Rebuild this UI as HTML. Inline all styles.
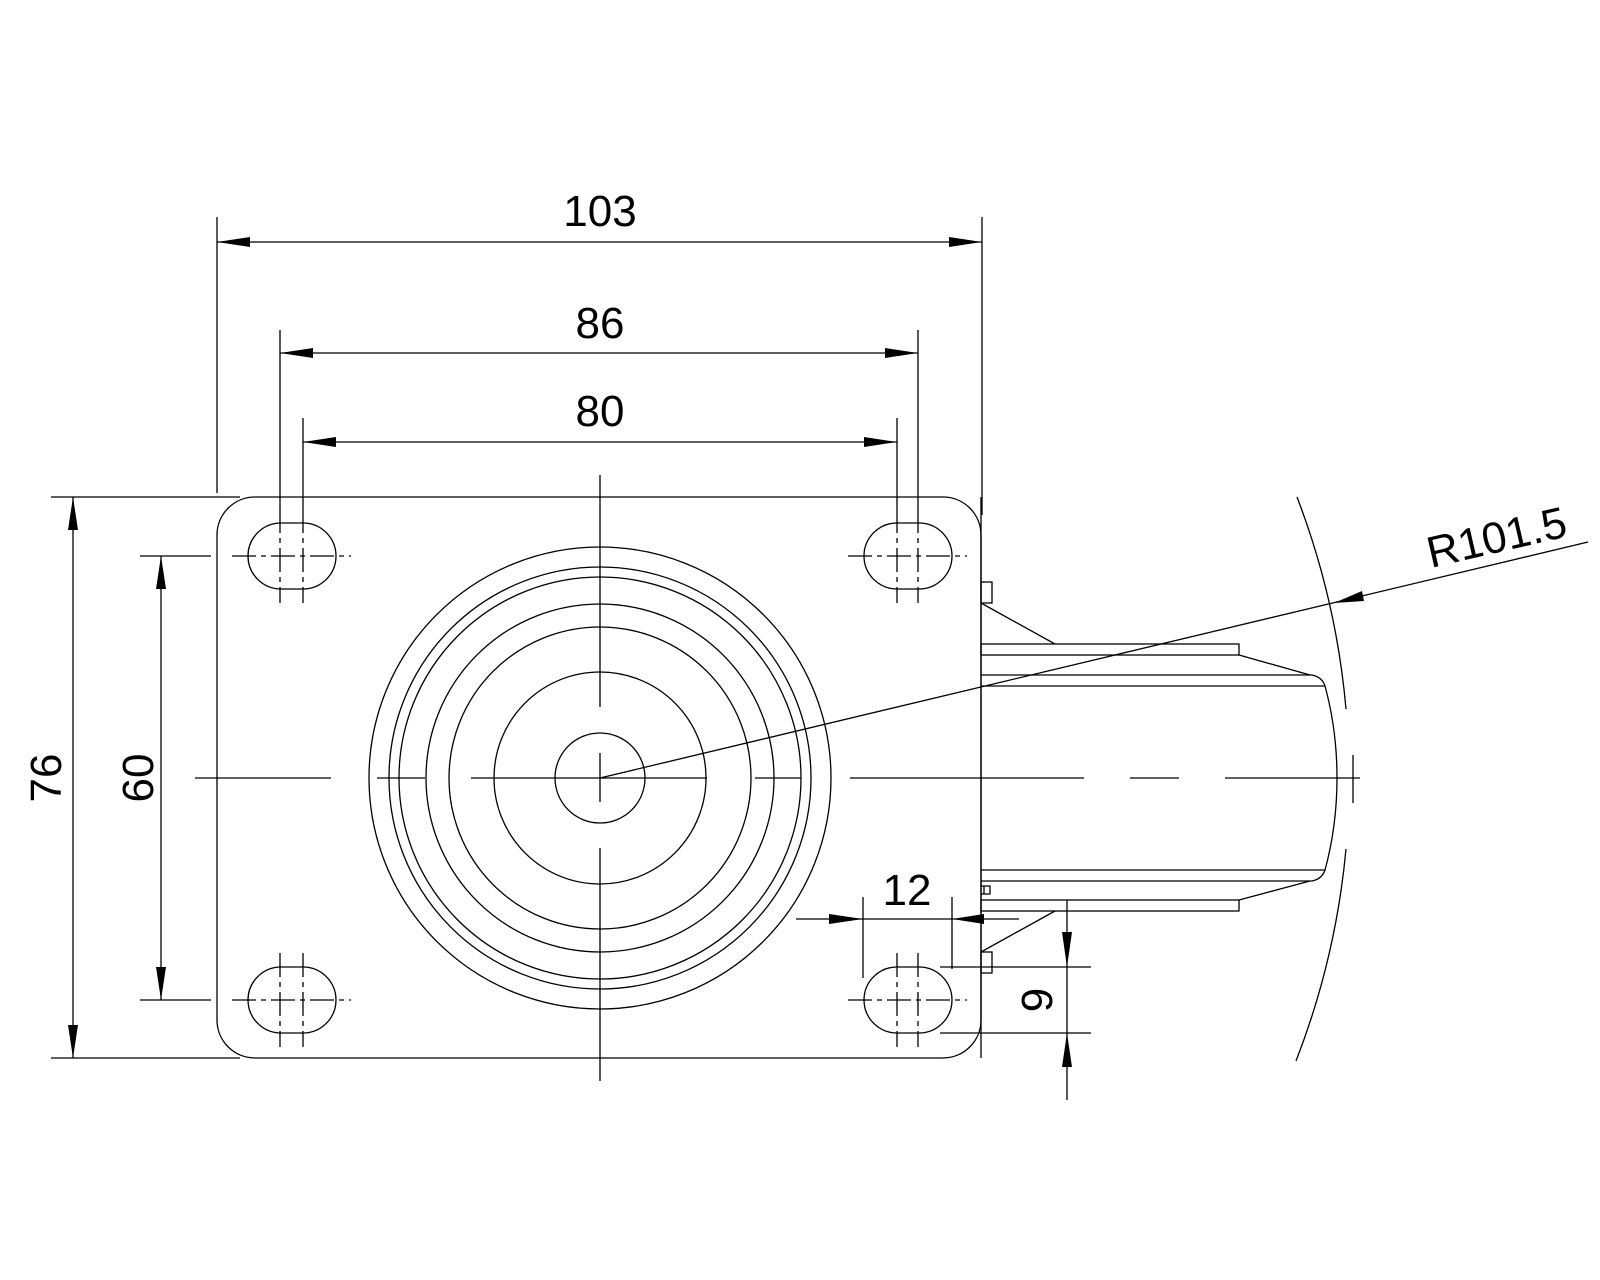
<!DOCTYPE html>
<html><head><meta charset="utf-8"><style>
html,body{margin:0;padding:0;background:#fff;}
svg{display:block;}
text{font-family:"Liberation Sans",Arial,sans-serif;fill:#000;}
</style></head><body>
<svg width="1600" height="1280" viewBox="0 0 1600 1280" xmlns="http://www.w3.org/2000/svg">
<g fill="none" stroke="#000" stroke-width="1.3">
<!-- plate -->
<path d="M257,497 H943 A38,38 0 0 1 981,535 V1020 A38,38 0 0 1 943,1058 H255 A38,38 0 0 1 217,1020 V535 A38,38 0 0 1 255,497 Z"/>
<!-- circles -->
<circle cx="600" cy="778" r="231"/>
<circle cx="600" cy="778" r="211"/>
<circle cx="600" cy="778" r="201"/>
<circle cx="600" cy="778" r="174"/>
<circle cx="600" cy="778" r="151"/>
<circle cx="600" cy="778" r="106"/>
<circle cx="600" cy="778" r="45"/>
<!-- centerlines front -->
<path d="M195,778H331 M377,778H425 M471,778H707 M755,778H801 M850,778H1084 M1130,778H1179 M1225,778H1360"/>
<path d="M600,475V707 M600,753V802 M600,848V1081"/>
<!-- slots -->
<path d="M281,523 H303 A33,33 0 0 1 303,589 H281 A33,33 0 0 1 281,523 Z"/>
<path d="M897,523 H919 A33,33 0 0 1 919,589 H897 A33,33 0 0 1 897,523 Z"/>
<path d="M281,967 H303 A33,33 0 0 1 303,1033 H281 A33,33 0 0 1 281,967 Z"/>
<path d="M897,967 H919 A33,33 0 0 1 919,1033 H897 A33,33 0 0 1 897,967 Z"/>
<g stroke-dasharray="24,5,5,5">
<path d="M232,556H351 M848,556H967 M232,1000H351 M848,1000H967"/>
<path d="M280,509V603 M303,509V603 M897,509V603 M918,509V603"/>
<path d="M280,953V1047 M303,953V1047 M897,953V1047 M918,953V1047"/>
</g>
<!-- dimension lines -->
<path d="M217,217V493 M982,217V515 M217,242H982"/>
<path d="M280,330V509 M918,330V509 M280,353H918"/>
<path d="M303,418V509 M897,418V509 M303,442H897"/>
<path d="M51,497H240 M51,1058H240 M73,497V1058"/>
<path d="M140,556H211 M140,1000H211 M161,556V1000"/>
<path d="M796,919H1019 M863,897V978 M952,897V969"/>
<path d="M940,967H1091 M940,1033H1091 M1067,900V1100"/>
<!-- side view -->
<path d="M981,497V1058"/>
<rect x="981" y="582" width="11" height="21"/>
<rect x="981" y="952" width="11" height="21"/>
<path d="M981,886h9v8h-9 M984,886v8"/>
<path d="M981,603L1055,644 M1055,911L981,952"/>
<rect x="981" y="644" width="258" height="11"/>
<rect x="981" y="900" width="258" height="11"/>
<path d="M1239,655L1310,675 M1239,900L1310,881"/>
<path d="M981,675H1312 Q1322,677 1325,686 Q1337,730 1337,778 Q1337,826 1325,870 Q1322,879 1312,881 H981"/>
<path d="M981,686H1325 M981,870H1325"/>
<!-- R arc -->
<path d="M1297,497 A785,785 0 0 1 1346,709"/>
<path d="M1346,849 A785,785 0 0 1 1296,1061"/>
<path d="M1353,755V803"/>
<path d="M600,778L1588,542"/>
</g>
<g fill="#000" stroke="none">
<polygon points="217,242 250,237 250,247"/>
<polygon points="982,242 949,237 949,247"/>
<polygon points="280,353 313,348 313,358"/>
<polygon points="918,353 885,348 885,358"/>
<polygon points="303,442 336,437 336,447"/>
<polygon points="897,442 864,437 864,447"/>
<polygon points="73,497 68,530 78,530"/>
<polygon points="73,1058 68,1025 78,1025"/>
<polygon points="161,556 156,589 166,589"/>
<polygon points="161,1000 156,967 166,967"/>
<polygon points="863,919 829,914 829,924"/>
<polygon points="952,919 984,914 984,924"/>
<polygon points="1067,967 1062,932 1072,932"/>
<polygon points="1067,1033 1062,1067 1072,1067"/>
<polygon points="1334,603 1364,601 1362,591"/>
</g>
<g font-size="44" text-anchor="middle">
<text x="600" y="226">103</text>
<text x="600" y="338">86</text>
<text x="600" y="426">80</text>
<text x="907" y="905">12</text>
<text transform="translate(61,778) rotate(-90)">76</text>
<text transform="translate(153,778) rotate(-90)">60</text>
<text transform="translate(1052,1000) rotate(-90)">9</text>
<text transform="translate(1500,552) rotate(-13)">R101.5</text>
</g>
</svg>
</body></html>
